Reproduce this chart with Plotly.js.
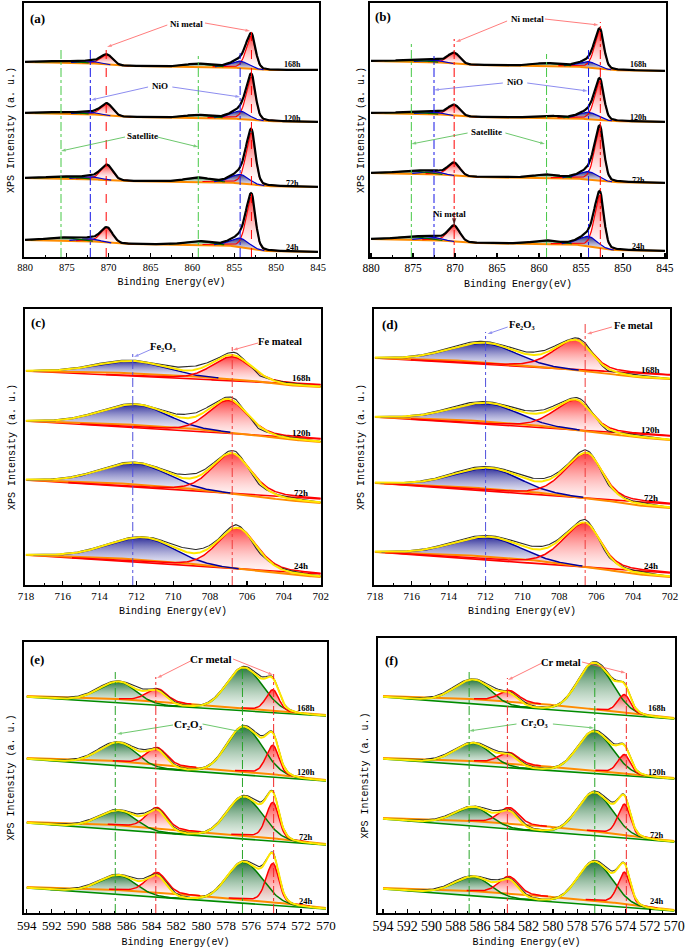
<!DOCTYPE html>
<html><head><meta charset="utf-8">
<script src="https://cdn.plot.ly/plotly-3.0.1.min.js"></script>
<style>html,body{margin:0;padding:0;background:#fff}#chart{width:685px;height:948px}</style>
</head><body><div id="chart"></div>
<script>
// ---------------- DATA (intensities in arbitrary units) ----------------
const spectrumLabels = ['168h', '120h', '72h', '24h'];

// Ni 2p  (panels a, b)
const niBgX = [880, 872.5, 868.5, 856, 851.5, 845];
const niKinds = ['metal', 'nio', 'sat', 'metal', 'nio', 'sat'];
const niWL = [0.75, 1.3, 1.8, 0.9, 1.4, 2.0];
const niWR = [0.55, 1.2, 1.6, 0.8, 1.3, 2.0];
const niMix = [0.3, 0.1, 0, 0.3, 0.1, 0];

const aCenters = [852.95, 854.3, 859.3, 870.2, 872.1, 875.6];
const aBg168 = [195, 194, 191, 190, 187, 187];
const aBg120 = [144, 143, 140, 139, 136, 135];
const aBg72  = [79, 78, 76, 75, 71, 70];
const aBg24  = [17, 16, 13, 12, 6, 5];
const aH168 = [33, 7, 3, 10, 2, 1.5];
const aH120 = [43, 8, 2.7, 12, 2, 1.5];
const aH72  = [52, 9, 4, 15, 2.5, 2];
const aH24  = [52, 9, 3.5, 15, 2.5, 3];
const aGuideX = [875.7, 859.3, 872.2, 854.3, 870.3, 852.95];

const bCenters = [852.75, 854.1, 859.1, 870.1, 872.5, 875.2];
const bBg168 = [196, 195, 192, 191, 187, 186];
const bBg120 = [144, 143, 140, 139, 136, 135];
const bBg72  = [84, 83, 80, 79, 75, 74];
const bBg24  = [18, 17, 14, 13, 7, 6];
const bH168 = [38, 6, 2.5, 11, 2, 1.5];
const bH120 = [39, 7, 2, 11, 2, 1.5];
const bH72  = [52, 8, 3, 13, 2.5, 2.7];
const bH24  = [53, 10, 3, 16, 2.5, 3];
const bGuideX = [875.2, 859.1, 872.5, 854.1, 870.1, 852.7];
const niGuideKind = ['sat', 'sat', 'nio', 'nio', 'metal', 'metal'];

// Fe 2p3/2 (panels c, d)
const feBgX = [718, 714, 710, 706, 704, 702];
const cBg168 = [214, 213, 210, 205, 200, 198];
const cBg120 = [164, 162, 158, 151, 146, 143];
const cBg72  = [105, 103, 98, 90, 85, 82];
const cBg24  = [30, 28, 23, 15, 11, 8];
const cLin168 = [214, 200], cLin120 = [164, 146], cLin72 = [105, 86], cLin24 = [30, 11];
const cOxC = [712.2, 712.0, 712.0, 711.6];
const cOxH = [12, 20, 21, 22];
const cMetC = [706.8, 707.0, 706.8, 706.5];
const cMetH = [24, 33, 40, 41];
const cResX = [718, 716, 713, 711.5, 710, 709.3, 708.5, 707.5, 706.6, 706, 705.4, 704.7, 703.8, 702];
const cResY = [0, 0.5, 1, 0.5, 2, 4, 3.5, 1, 3, 0, -3, 0, 1.5, 0];
const cGuideX = [712.2, 706.8];

const dBg168 = [227, 225, 220, 213, 208, 206];
const dBg120 = [168, 166, 161, 153, 148, 145];
const dBg72  = [102, 99, 94, 86, 80, 77];
const dBg24  = [33, 31, 26, 17, 11, 8];
const dLin168 = [227, 210], dLin120 = [168, 149], dLin72 = [102, 81], dLin24 = [33, 12];
const dOxC = [712.0, 711.9, 711.8, 711.8];
const dOxH = [19, 18, 20, 19];
const dMetC = [707.1, 707.1, 706.5, 706.6];
const dMetH = [30, 30, 45, 44];
const dResY = [0, 0.5, 1.5, 1, 2, 3, 2.5, 1, 3, 0, -2.5, 1, 1.5, 0];
const dGuideX = [712.0, 706.6];
const feGuideKind = ['feox', 'femetal'];

// Cr 2p (panels e, f)
const crBgX = [594, 588, 584, 580, 576, 573, 570];
const crKinds = ['crox', 'crmetal', 'crox', 'crmetal'];
const crWL = [1.9, 1.0, 1.6, 0.65];
const crWR = [1.6, 0.9, 1.8, 0.55];
const crMix = [0.1, 0.2, 0.1, 0.2];
const crResX = [594, 591, 588, 586.5, 585, 584, 582.5, 580.5, 578.5, 577, 575.5, 574.6, 573.5, 572, 570];
const crResY = [0, 1, 1.5, 0.5, 2.5, 1, 1.5, 0.5, 1, 0.5, 2.5, 1, 0.5, 0, 0];

const eCenters = [586.6, 583.55, 576.6, 574.25];
const eBg168 = [217, 215, 212, 208, 204, 201, 198];
const eBg120 = [155, 153, 149, 145, 141, 137, 133];
const eBg72  = [91, 89, 85, 81, 77, 73, 69];
const eBg24  = [26, 24, 21, 17, 13, 9, 5];
const eLin168 = [216, 197], eLin120 = [154, 132], eLin72 = [90, 68], eLin24 = [25, 4];
const eH168 = [21, 13, 43, 21];
const eH120 = [23, 17, 48, 29];
const eH72  = [19, 21, 42, 36];
const eH24  = [19, 20, 41, 39];
const eGuideX = [586.9, 583.65, 576.7, 574.2];

const fCenters = [586.5, 583.6, 576.6, 574.1];
const fBg168 = [217, 215, 212, 208, 203, 199, 195];
const fBg120 = [155, 153, 150, 146, 142, 138, 135];
const fBg72  = [95, 93, 90, 86, 81, 76, 72];
const fBg24  = [25, 23, 20, 16, 12, 7, 3];
const fLin168 = [216, 194], fLin120 = [154, 134], fLin72 = [94, 71], fLin24 = [24, 2];
const fH168 = [24, 11, 50, 18];
const fH120 = [22, 11, 42, 19];
const fH72  = [19, 16, 43, 31];
const fH24  = [19, 17, 43, 32];
const fGuideX = [586.9, 583.75, 576.55, 573.95];

// ---------------- HELPERS ----------------
function grid(a, b, step) {
  const n = Math.round(Math.abs(b - a) / step), s = b > a ? 1 : -1, out = [];
  for (let i = 0; i <= n; i++) out.push(+(a + s * i * step).toFixed(3));
  return out;
}
function interp(xk, yk, x) {
  for (let i = 0; i < xk.length - 1; i++) {
    const a = xk[i], b = xk[i + 1];
    if ((x <= a && x >= b) || (x >= a && x <= b)) {
      const t = (x - a) / (b - a);
      return yk[i] + t * (yk[i + 1] - yk[i]);
    }
  }
  return Math.abs(x - xk[0]) < Math.abs(x - xk[xk.length - 1]) ? yk[0] : yk[yk.length - 1];
}
function peak(x, c, h, wl, wr, m) {
  const d = x - c, w = d > 0 ? wl : wr, u = d / w;
  return h * ((1 - m) * Math.exp(-Math.LN2 * u * u) + m / (1 + u * u));
}

const ORANGE = 'rgb(255,140,0)';
const STYLE = {
  metal:   {line: 'rgb(255,0,0)',   top: 'rgba(255,25,25,0.9)',  bottom: 'rgba(255,255,255,0.1)', guide: 'rgb(255,0,0)'},
  nio:     {line: 'rgb(0,0,205)',   top: 'rgba(30,30,110,0.95)', bottom: 'rgba(200,200,225,0.3)', guide: 'rgb(20,20,230)'},
  sat:     {line: 'rgb(0,110,0)',   top: 'rgba(15,80,35,0.95)',  bottom: 'rgba(200,220,200,0.3)', guide: 'rgb(70,200,70)'},
  feox:    {line: 'rgb(0,0,160)',   top: 'rgba(40,40,150,0.95)', bottom: 'rgba(235,235,250,0.35)', guide: 'rgb(80,80,220)'},
  femetal: {line: 'rgb(255,0,0)',   top: 'rgba(255,40,40,0.9)',  bottom: 'rgba(255,240,240,0.3)', guide: 'rgb(240,60,60)'},
  crox:    {line: 'rgb(0,125,0)',   top: 'rgba(20,105,45,0.9)',  bottom: 'rgba(240,248,240,0.3)', guide: 'rgb(40,165,40)'},
  crmetal: {line: 'rgb(255,0,0)',   top: 'rgba(255,40,40,0.9)',  bottom: 'rgba(255,240,240,0.3)', guide: 'rgb(240,40,40)'}
};

const traces = [];
const annotations = [];
const layout = {
  width: 685, height: 948, margin: {l: 0, r: 0, t: 0, b: 0},
  paper_bgcolor: '#fff', plot_bgcolor: '#fff', showlegend: false,
  annotations: annotations
};

function lineTrace(P, x, y, color, width, dash) {
  return {type: 'scatter', mode: 'lines', x: x, y: y, xaxis: P.xa, yaxis: P.ya,
          line: {color: color, width: width, dash: dash || 'solid'}, hoverinfo: 'skip', showlegend: false};
}

function buildPanel(P) {
  const xs = grid(P.x0, P.x1, P.step);
  P.spectra.forEach(S => {
    const bg = xs.map(x => interp(P.bgX, S.bg, x));
    const lin = S.lin ? xs.map(x => S.lin[0] + (P.x0 - x) / (P.x0 - P.x1) * (S.lin[1] - S.lin[0])) : null;
    const env = xs.map((x, i) => (P.envBase === 'lin' ? lin[i] : bg[i]));
    const comps = S.comps.map(c => {
      const base = c.base === 'lin' ? lin : bg;
      const pk = xs.map(x => peak(x, c.c, c.h, c.wl, c.wr, c.m));
      pk.forEach((v, i) => { env[i] += v; });
      let i0 = pk.findIndex(v => v > 0.25);
      let i1 = pk.length - 1 - pk.slice().reverse().findIndex(v => v > 0.25);
      const xsub = xs.slice(i0, i1 + 1);
      const top = xsub.map((x, k) => base[i0 + k] + pk[i0 + k]);
      const bot = xsub.map((x, k) => base[i0 + k]);
      return {kind: c.kind, xsub, top, bot};
    });
    comps.forEach(c => {
      const st = STYLE[c.kind];
      traces.push({type: 'scatter', mode: 'lines', xaxis: P.xa, yaxis: P.ya,
        x: c.xsub.concat(c.xsub.slice().reverse()), y: c.top.concat(c.bot.slice().reverse()),
        fill: 'toself', fillcolor: st.top,
        fillgradient: {type: 'vertical', colorscale: [[0, st.bottom], [1, st.top]]},
        line: {width: 0, color: 'rgba(0,0,0,0)'}, hoverinfo: 'skip', showlegend: false});
    });
    if (lin) traces.push(lineTrace(P, xs, lin, P.linColor, 1.6));
    traces.push(lineTrace(P, xs, bg, ORANGE, 2));
    comps.forEach(c => traces.push(lineTrace(P, c.xsub, c.top, STYLE[c.kind].line, P.mode === 'ni' ? 1.2 : 1.5)));
    if (P.mode === 'ni') {
      traces.push(lineTrace(P, xs, env, '#000', 2.2));
    } else {
      const dataY = xs.map((x, i) => env[i] + interp(P.resX, P.resY, x));
      traces.push(lineTrace(P, xs, dataY, 'rgb(45,45,45)', 1.1));
      traces.push(lineTrace(P, xs, env, 'rgb(255,232,0)', 2));
    }
  });
  // guide lines
  P.guideX.forEach((gx, i) => {
    const st = STYLE[P.guideKind[i]];
    traces.push(lineTrace(P, [gx, gx], [0, P.guideTop[i]], st.guide, 1, P.guideDash[i]));
  });
  // pointer arrows (line + arrow-head marker)
  P.arrows.forEach(a => traces.push({type: 'scatter', mode: 'lines+markers', xaxis: P.xa, yaxis: P.ya,
    x: [a[0], a[2]], y: [a[1], a[3]], line: {color: a[4], width: 0.8},
    marker: {symbol: 'arrow', size: [0, a[5] || 5], angleref: 'previous', color: a[4], line: {width: 0}},
    hoverinfo: 'skip', showlegend: false}));
  // axes
  const n = P.n;
  const xk = n === 1 ? 'xaxis' : 'xaxis' + n, yk = n === 1 ? 'yaxis' : 'yaxis' + n;
  layout[xk] = {
    domain: [P.box[0] / 685, P.box[1] / 685], range: P.xr, anchor: P.ya,
    dtick: P.dtick, tick0: 0, ticks: 'inside', ticklen: 4, tickwidth: 1.2, tickcolor: '#000',
    minor: {ticks: 'inside', ticklen: 2.5, dtick: P.minor, tickcolor: '#000', tickwidth: 1},
    showline: true, mirror: true, linecolor: '#000', linewidth: 1.6,
    showgrid: false, zeroline: false, fixedrange: true,
    tickfont: {family: 'Liberation Serif', size: P.tickSize, color: '#000'},
    title: {text: 'Binding Energy(eV)', font: {family: 'Liberation Mono', size: 10, color: '#000'}, standoff: P.xStandoff}
  };
  layout[yk] = {
    domain: [(948 - P.box[3]) / 948, (948 - P.box[2]) / 948], range: [0, P.box[3] - P.box[2]], anchor: P.xa,
    showticklabels: false, ticks: '', showline: true, mirror: true, linecolor: '#000', linewidth: 1.6,
    showgrid: false, zeroline: false, fixedrange: true,
    title: {text: 'XPS Intensity (a. u.)', font: {family: 'Liberation Mono', size: 10, color: '#000'}, standoff: P.yStandoff}
  };
  // labels
  P.texts.forEach(t => annotations.push({xref: P.xa, yref: P.ya, x: t[1], y: t[2], text: t[0], showarrow: false,
    xanchor: 'center', yanchor: 'middle', font: {family: 'Liberation Serif', size: t[3], color: '#000', weight: 'bold'}}));
  spectrumLabels.forEach((s, i) => annotations.push({xref: P.xa, yref: P.ya, x: P.labelX, y: P.labelY[i], text: s,
    showarrow: false, xanchor: 'center', yanchor: 'middle',
    font: {family: 'Liberation Serif', size: P.labelSize, color: '#000', weight: 'bold'}}));
}

function niSpectra(centers, bgs, hs) {
  return bgs.map((bg, s) => ({bg: bg, comps: centers.map((c, i) => ({c: c, h: hs[s][i], wl: niWL[i], wr: niWR[i], m: niMix[i], kind: niKinds[i], base: 'bg'}))}));
}
function feSpectra(bgs, lins, oxC, oxH, metC, metH, mw) {
  return bgs.map((bg, s) => ({bg: bg, lin: lins[s], comps: [
    {c: oxC[s], h: oxH[s], wl: 2.2, wr: 1.9, m: 0.05, kind: 'feox', base: 'bg'},
    {c: metC[s], h: metH[s], wl: mw[0], wr: mw[1], m: mw[2], kind: 'femetal', base: 'lin'}]}));
}
function crSpectra(centers, bgs, lins, hs) {
  return bgs.map((bg, s) => ({bg: bg, lin: lins[s], comps: centers.map((c, i) => ({c: c, h: hs[s][i], wl: crWL[i], wr: crWR[i], m: crMix[i], kind: crKinds[i], base: crKinds[i] === 'crox' ? 'lin' : 'bg'}))}));
}

const RED_A = 'rgb(255,90,90)', BLUE_A = 'rgb(110,110,235)', GREEN_A = 'rgb(70,185,70)';
const FE2O3 = 'Fe\u2082O\u2083', CR2O3 = 'Cr\u2082O\u2083';

const panels = [
  {n: 1, xa: 'x', ya: 'y', mode: 'ni', x0: 880, x1: 845, step: 0.1, xr: [880.12, 844.88], box: [24, 319, 3, 257],
   dtick: 5, minor: 2.5, tickSize: 10.5, xStandoff: 6, yStandoff: 6, bgX: niBgX, envBase: 'bg',
   spectra: niSpectra(aCenters, [aBg168, aBg120, aBg72, aBg24], [aH168, aH120, aH72, aH24]),
   guideX: aGuideX, guideKind: niGuideKind, guideTop: [208, 201, 210, 204, 213, 231],
   guideDash: ['dashdot', 'dashdot', 'dashdot', 'dashdot', 'dash', 'dash'],
   labelX: 848.0, labelY: [193, 139, 74, 10], labelSize: 8,
   texts: [['(a)', 878.45, 239, 13], ['Ni metal', 860.65, 233, 9], ['NiO', 863.9, 171, 9], ['Satellite', 866.0, 121, 9]],
   arrows: [[863.0, 232, 870.2, 210, RED_A], [858.5, 234, 853.1, 226, RED_A],
            [865.3, 170, 872.1, 157, BLUE_A], [862.4, 170, 854.3, 160, BLUE_A],
            [868.05, 120, 875.7, 106, GREEN_A], [864.2, 120, 859.3, 110, GREEN_A]]},
  {n: 2, xa: 'x2', ya: 'y2', mode: 'ni', x0: 880, x1: 845, step: 0.1, xr: [880.12, 844.88], box: [370, 666, 3, 257],
   dtick: 5, minor: 2.5, tickSize: 11.5, xStandoff: 6, yStandoff: 2, bgX: niBgX, envBase: 'bg',
   spectra: niSpectra(bCenters, [bBg168, bBg120, bBg72, bBg24], [bH168, bH120, bH72, bH24]),
   guideX: bGuideX, guideKind: niGuideKind, guideTop: [213, 203, 201, 209, 218, 235],
   guideDash: ['dashdot', 'dashdot', 'dashdot', 'dashdot', 'dashdot', 'dashdot'],
   labelX: 848.2, labelY: [193, 140, 77, 11], labelSize: 8,
   texts: [['(b)', 878.6, 241, 13], ['Ni metal', 861.4, 238, 9], ['NiO', 862.9, 175, 9], ['Satellite', 866.2, 125, 9], ['Ni metal', 870.6, 43, 9]],
   arrows: [[863.8, 236, 869.9, 215, RED_A], [859.3, 238, 852.9, 232, RED_A],
            [864.3, 174, 872.5, 167, BLUE_A], [861.4, 174, 854.2, 166, BLUE_A],
            [868.5, 124, 875.2, 113, GREEN_A], [864.0, 124, 859.3, 113, GREEN_A],
            [870.1, 37, 870.1, 32, 'rgb(60,0,0)', 7]]},
  {n: 3, xa: 'x3', ya: 'y3', mode: 'fe', x0: 718, x1: 702, step: 0.05, xr: [718.05, 701.98], box: [25, 321, 309, 585],
   dtick: 2, minor: 1, tickSize: 11, xStandoff: 6, yStandoff: 6, bgX: feBgX, envBase: 'bg', linColor: 'rgb(255,0,0)',
   resX: cResX, resY: cResY,
   spectra: feSpectra([cBg168, cBg120, cBg72, cBg24], [cLin168, cLin120, cLin72, cLin24], cOxC, cOxH, cMetC, cMetH, [1.3, 1.2, 0.3]),
   guideX: cGuideX, guideKind: feGuideKind, guideTop: [233, 238], guideDash: ['dashdot', 'dashdot'],
   labelX: 703.05, labelY: [207, 152, 92, 19], labelSize: 9,
   texts: [['(c)', 717.35, 262, 13], [FE2O3, 710.56, 238, 10.5], ['Fe mateal', 704.2, 243, 10.5]],
   arrows: [[711.16, 236, 712.14, 228, BLUE_A], [705.4, 242, 706.76, 235, RED_A]]},
  {n: 4, xa: 'x4', ya: 'y4', mode: 'fe', x0: 718, x1: 702, step: 0.05, xr: [718.05, 702.0], box: [374, 670, 309, 585],
   dtick: 2, minor: 1, tickSize: 11, xStandoff: 6, yStandoff: 6, bgX: feBgX, envBase: 'bg', linColor: 'rgb(255,0,0)',
   resX: cResX, resY: dResY,
   spectra: feSpectra([dBg168, dBg120, dBg72, dBg24], [dLin168, dLin120, dLin72, dLin24], dOxC, dOxH, dMetC, dMetH, [1.4, 1.0, 0.35]),
   guideX: dGuideX, guideKind: feGuideKind, guideTop: [253, 261], guideDash: ['dashdot', 'dashdot'],
   labelX: 703.05, labelY: [215, 155, 87, 19], labelSize: 9,
   texts: [['(d)', 717.2, 260, 13], [FE2O3, 710.0, 260, 10.5], ['Fe metal', 704.0, 259, 10.5]],
   arrows: [[710.8, 258, 711.9, 251, BLUE_A], [705.15, 258, 706.5, 251, RED_A]]},
  {n: 5, xa: 'x5', ya: 'y5', mode: 'cr', x0: 594, x1: 570, step: 0.1, xr: [594.22, 569.92], box: [24, 327, 642, 913],
   dtick: 2, minor: 1, tickSize: 13, xStandoff: 6, yStandoff: 6, bgX: crBgX, envBase: 'lin', linColor: 'rgb(0,140,0)',
   resX: crResX, resY: crResY,
   spectra: crSpectra(eCenters, [eBg168, eBg120, eBg72, eBg24], [eLin168, eLin120, eLin72, eLin24], [eH168, eH120, eH72, eH24]),
   guideX: eGuideX, guideKind: crKinds, guideTop: [241, 236, 245, 239], guideDash: ['dashdot', 'dashdot', 'dashdot', 'dashdot'],
   labelX: 571.6, labelY: [205, 141, 76, 12], labelSize: 8.5,
   texts: [['(e)', 593.17, 254, 13], ['Cr metal', 579.2, 254, 11], [CR2O3, 581.05, 189, 11]],
   arrows: [[580.7, 253, 583.55, 235, RED_A], [577.45, 254, 574.25, 238, RED_A],
            [582.27, 188, 586.76, 179, GREEN_A], [579.9, 189, 576.7, 181, GREEN_A]]},
  {n: 6, xa: 'x6', ya: 'y6', mode: 'cr', x0: 594, x1: 570, step: 0.1, xr: [594.41, 569.94], box: [378, 675, 638, 913],
   dtick: 2, minor: 1, tickSize: 14, xStandoff: 6, yStandoff: 6, bgX: crBgX, envBase: 'lin', linColor: 'rgb(0,140,0)',
   resX: crResX, resY: crResY,
   spectra: crSpectra(fCenters, [fBg168, fBg120, fBg72, fBg24], [fLin168, fLin120, fLin72, fLin24], [fH168, fH120, fH72, fH24]),
   guideX: fGuideX, guideKind: crKinds, guideTop: [241, 235, 245, 240], guideDash: ['dashdot', 'dashdot', 'dashdot', 'dashdot'],
   labelX: 571.4, labelY: [205, 141, 78, 12], labelSize: 8.5,
   texts: [['(f)', 593.3, 253, 13], ['Cr metal', 579.3, 251, 10.5], [CR2O3, 581.5, 191, 10.5]],
   arrows: [[580.9, 250, 583.7, 233, RED_A], [577.6, 251, 574.0, 240, RED_A],
            [583.0, 189, 586.9, 182, GREEN_A], [580.0, 189, 576.6, 185, GREEN_A]]}
];

panels.forEach(buildPanel);
Plotly.newPlot('chart', traces, layout, {staticPlot: true, displayModeBar: false});
</script>
</body></html>
